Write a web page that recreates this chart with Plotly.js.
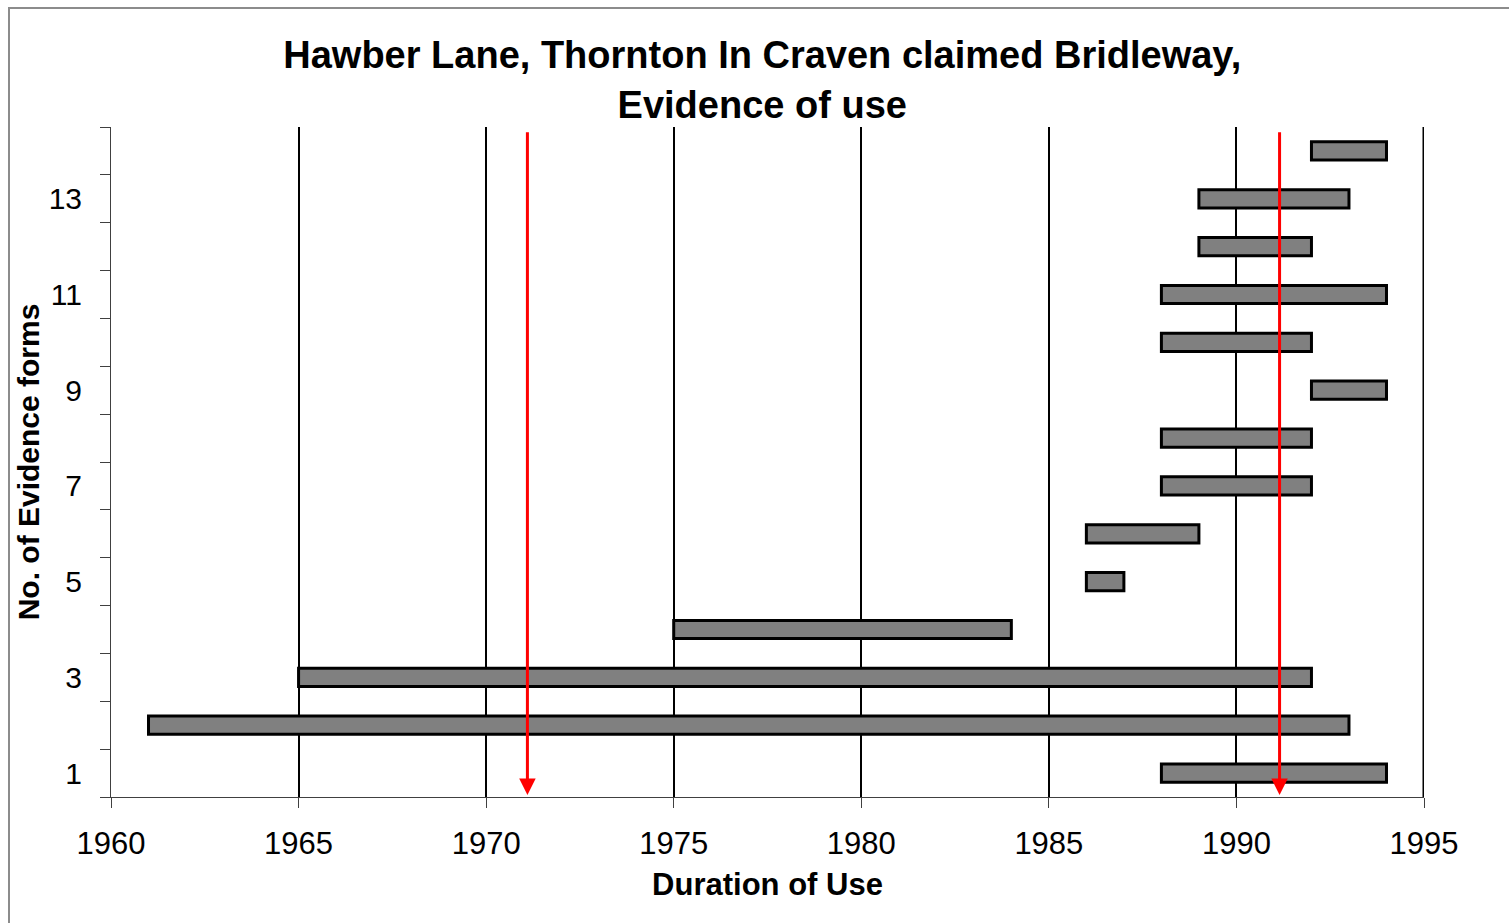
<!DOCTYPE html>
<html>
<head>
<meta charset="utf-8">
<script src="https://cdn.plot.ly/plotly-3.0.1.min.js"></script>
<style>
  html, body { margin: 0; padding: 0; background: #fff; overflow: hidden; }
  #wrap { position: relative; width: 1509px; height: 923px; }
  #chart { width: 1509px; height: 923px; }
  #frame { position: absolute; left: 8px; top: 7px; width: 1600px; height: 1000px;
           border-left: 2px solid #8c8c8c; border-top: 2px solid #8c8c8c; pointer-events: none; }
</style>
</head>
<body>
<div id="wrap">
  <div id="chart"></div>
  <div id="frame"></div>
</div>
<script>
// Evidence form number (row), start year and end year of use
const forms      = [1, 2, 3, 4, 5, 6, 7, 8, 9, 10, 11, 12, 13, 14];
const startYears = [1988, 1961, 1965, 1975, 1986, 1986, 1988, 1988, 1992, 1988, 1988, 1989, 1989, 1992];
const endYears   = [1994, 1993, 1992, 1984, 1987, 1989, 1992, 1992, 1994, 1992, 1994, 1992, 1993, 1994];
// Red marker arrows (20-year period)
const arrowYears = [1971.1, 1991.15];
// Axis ticks
const yTickVals  = [1, 3, 5, 7, 9, 11, 13];
const yTickText  = ["1", "3", "5", "7", "9", "11", "13"];
const yMinorVals = [0.5, 1.5, 2.5, 3.5, 4.5, 5.5, 6.5, 7.5, 8.5, 9.5, 10.5, 11.5, 12.5, 13.5, 14.5];
const xRange     = [1960, 1995];
const yRange     = [0.5, 14.5];

const FONT = 'Arial, "Liberation Sans", sans-serif';

const durations = endYears.map((e, i) => e - startYears[i]);

const trace = {
  type: 'bar',
  orientation: 'h',
  y: forms,
  x: durations,
  base: startYears,
  width: 0.38,
  marker: { color: '#808080', line: { color: '#000000', width: 3 } },
  hoverinfo: 'skip',
  showlegend: false
};

const annotations = arrowYears.map(yr => ({
  x: yr, y: yRange[0] + 0.04, xref: 'x', yref: 'y',
  ax: yr, ay: yRange[1] - 0.08, axref: 'x', ayref: 'y',
  text: '', showarrow: true, arrowhead: 2, arrowsize: 1.1, arrowwidth: 3,
  arrowcolor: '#ff0000'
}));

const layout = {
  width: 1509, height: 923,
  margin: { l: 111, r: 85, t: 127, b: 126 },
  paper_bgcolor: '#ffffff', plot_bgcolor: '#ffffff',
  font: { family: FONT, color: '#000000', size: 30 },
  title: {
    text: '<b>Hawber Lane, Thornton In Craven claimed Bridleway,<br>Evidence of use</b>',
    font: { family: FONT, size: 38, color: '#000000' },
    x: 0.496, xanchor: 'center', xref: 'paper',
    y: 0.926, yanchor: 'top', yref: 'container'
  },
  xaxis: {
    range: xRange, tickmode: 'linear', tick0: 1960, dtick: 5,
    showgrid: true, gridcolor: '#000000', gridwidth: 2,
    showline: true, linecolor: '#404040', linewidth: 1,
    ticks: 'outside', ticklen: 10, tickcolor: '#404040', tickwidth: 1,
    ticklabelstandoff: 9,
    tickfont: { family: FONT, size: 31, color: '#000000' },
    zeroline: false, fixedrange: true,
    title: { text: '<b>Duration of Use</b>', font: { family: FONT, size: 31, color: '#000000' }, standoff: 13 }
  },
  yaxis: {
    range: yRange, tickmode: 'array', tickvals: yTickVals, ticktext: yTickText,
    ticks: '', showgrid: false, zeroline: false,
    showline: true, linecolor: '#404040', linewidth: 1,
    ticklabelstandoff: 22,
    tickfont: { family: FONT, size: 30, color: '#000000' },
    minor: { tickmode: 'array', tickvals: yMinorVals, ticks: 'outside', ticklen: 10, tickcolor: '#404040', tickwidth: 1, showgrid: false },
    fixedrange: true,
    title: { text: '<b>No. of Evidence forms</b>', font: { family: FONT, size: 30, color: '#000000' }, standoff: 0 }
  },
  shapes: [
    { type: 'line', xref: 'x', yref: 'paper', x0: xRange[1], x1: xRange[1], y0: 0, y1: 1,
      line: { color: '#000000', width: 3 }, layer: 'below' }
  ],
  annotations: annotations,
  bargap: 0
};

Plotly.newPlot('chart', [trace], layout, { displayModeBar: false, staticPlot: true });
</script>
</body>
</html>
